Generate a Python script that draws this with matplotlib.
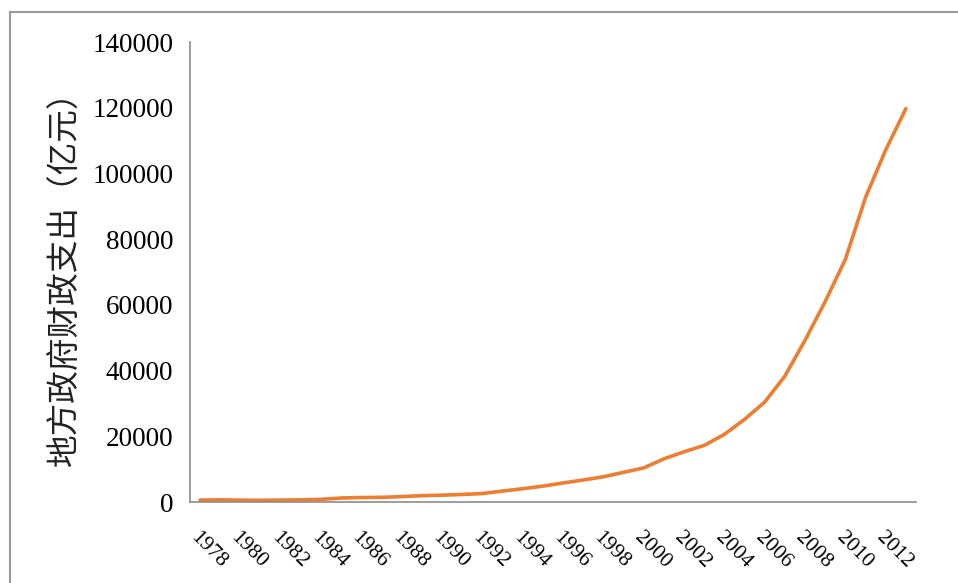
import matplotlib
matplotlib.use("Agg")
import matplotlib.pyplot as plt
from matplotlib.lines import Line2D
import numpy as np

years = list(range(1978, 2014))
expenditure = [590.0, 646.2, 562.0, 512.8, 578.2, 649.9, 808.0, 1209.0, 1368.6, 1416.6,
               1646.2, 1935.0, 2079.1, 2295.8, 2571.8, 3330.2, 4038.2, 4828.3, 5786.3,
               6701.1, 7672.6, 9035.3, 10366.7, 13134.6, 15281.5, 17229.9, 20592.8,
               25154.3, 30431.3, 38339.3, 49248.5, 61044.1, 73884.4, 92733.7, 107188.3,
               119740.3]
y_ticks = [0, 20000, 40000, 60000, 80000, 100000, 120000, 140000]
y_label = "地方政府财政支出（亿元）"

fig = plt.figure(figsize=(9.58, 5.83), dpi=100)
ax = fig.add_axes([190/958, 1-502/583, (916-190)/958, (502-42)/583])

x = np.arange(len(years))
ax.plot(x, expenditure, color="#ED7D31", lw=2.6, solid_capstyle="round")
ax.set_xlim(-0.5, len(years) - 0.5)
ax.set_ylim(0, 140000)
ax.set_yticks(y_ticks)
ax.set_yticklabels([str(v) for v in y_ticks], fontfamily="Liberation Serif", fontsize=19.5)
ax.tick_params(axis="y", length=0, pad=12)

tick_pos = x[::2]
ax.set_xticks(tick_pos)
ax.set_xticklabels([str(years[i]) for i in tick_pos], rotation=-45, ha="left", va="top",
                   rotation_mode="anchor", fontfamily="Liberation Serif", fontsize=15.5)
ax.tick_params(axis="x", length=0, pad=19)

for s in ["top", "right"]:
    ax.spines[s].set_visible(False)
for s in ["left", "bottom"]:
    ax.spines[s].set_color("#8C8C8C")
    ax.spines[s].set_linewidth(1.2)

fig.text(66/958, 1-270/583, y_label, rotation=90, ha="center", va="center",
         fontsize=23.5, family=["Noto Sans CJK SC", "DejaVu Sans"], color="#222222")

# outer frame
fig.add_artist(Line2D([10/958, 10/958], [0, 1-12/583], transform=fig.transFigure,
                      color="#9A9A9A", lw=1.5))
fig.add_artist(Line2D([10/958, 1], [1-12/583, 1-12/583], transform=fig.transFigure,
                      color="#9A9A9A", lw=1.5))

fig.savefig("out.png", dpi=100)
